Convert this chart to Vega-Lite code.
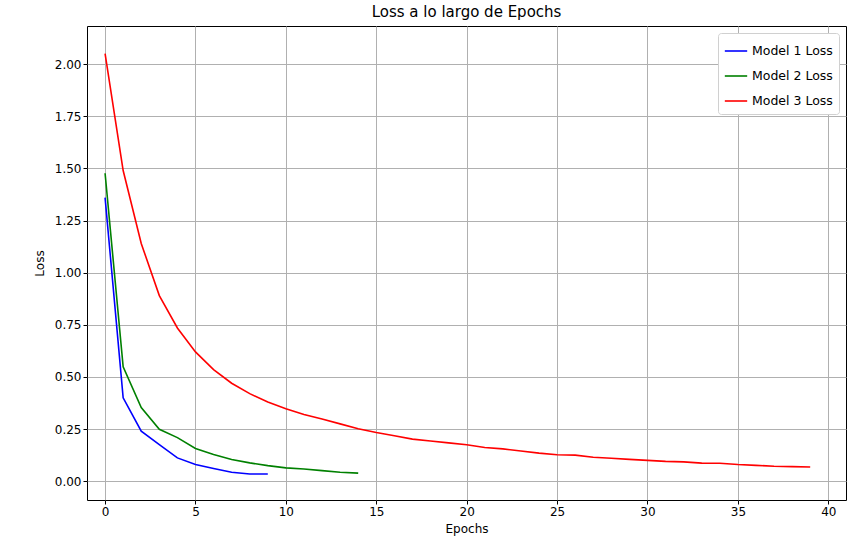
{
  "$schema": "https://vega.github.io/schema/vega-lite/v6.json",
  "autosize": {"type": "none"},
  "padding": {"left": 87, "top": 26, "right": 9, "bottom": 47},
  "width": 759,
  "height": 474,
  "title": {"text": "Loss a lo largo de Epochs", "fontSize": 15, "fontWeight": "normal", "font": "DejaVu Sans", "color": "#000", "offset": 6},
  "config": {
    "font": "DejaVu Sans",
    "view": {"stroke": "#000", "strokeWidth": 1},
    "axis": {"labelFont": "DejaVu Sans", "titleFont": "DejaVu Sans", "labelFontSize": 12, "titleFontSize": 12, "titleFontWeight": "normal", "labelColor": "#000", "titleColor": "#000", "gridColor": "#b0b0b0", "gridOpacity": 1, "gridWidth": 1, "domain": false, "tickColor": "#000", "tickSize": 4}
  },
  "data": {"values": [
    {"m": "Model 1 Loss", "e": 0, "v": 1.36}, {"m": "Model 1 Loss", "e": 1, "v": 0.40}, {"m": "Model 1 Loss", "e": 2, "v": 0.24}, {"m": "Model 1 Loss", "e": 3, "v": 0.176}, {"m": "Model 1 Loss", "e": 4, "v": 0.112}, {"m": "Model 1 Loss", "e": 5, "v": 0.08}, {"m": "Model 1 Loss", "e": 6, "v": 0.061}, {"m": "Model 1 Loss", "e": 7, "v": 0.043}, {"m": "Model 1 Loss", "e": 8, "v": 0.035}, {"m": "Model 1 Loss", "e": 9, "v": 0.035},
    {"m": "Model 2 Loss", "e": 0, "v": 1.477}, {"m": "Model 2 Loss", "e": 1, "v": 0.549}, {"m": "Model 2 Loss", "e": 2, "v": 0.353}, {"m": "Model 2 Loss", "e": 3, "v": 0.249}, {"m": "Model 2 Loss", "e": 4, "v": 0.209}, {"m": "Model 2 Loss", "e": 5, "v": 0.157}, {"m": "Model 2 Loss", "e": 6, "v": 0.128}, {"m": "Model 2 Loss", "e": 7, "v": 0.104}, {"m": "Model 2 Loss", "e": 8, "v": 0.088}, {"m": "Model 2 Loss", "e": 9, "v": 0.075}, {"m": "Model 2 Loss", "e": 10, "v": 0.064}, {"m": "Model 2 Loss", "e": 11, "v": 0.059}, {"m": "Model 2 Loss", "e": 12, "v": 0.051}, {"m": "Model 2 Loss", "e": 13, "v": 0.043}, {"m": "Model 2 Loss", "e": 14, "v": 0.039},
    {"m": "Model 3 Loss", "e": 0, "v": 2.05}, {"m": "Model 3 Loss", "e": 1, "v": 1.49}, {"m": "Model 3 Loss", "e": 2, "v": 1.14}, {"m": "Model 3 Loss", "e": 3, "v": 0.89}, {"m": "Model 3 Loss", "e": 4, "v": 0.735}, {"m": "Model 3 Loss", "e": 5, "v": 0.62}, {"m": "Model 3 Loss", "e": 6, "v": 0.535}, {"m": "Model 3 Loss", "e": 7, "v": 0.47}, {"m": "Model 3 Loss", "e": 8, "v": 0.42}, {"m": "Model 3 Loss", "e": 9, "v": 0.38},
    {"m": "Model 3 Loss", "e": 10, "v": 0.348}, {"m": "Model 3 Loss", "e": 11, "v": 0.32}, {"m": "Model 3 Loss", "e": 12, "v": 0.298}, {"m": "Model 3 Loss", "e": 13, "v": 0.275}, {"m": "Model 3 Loss", "e": 14, "v": 0.252}, {"m": "Model 3 Loss", "e": 15, "v": 0.234}, {"m": "Model 3 Loss", "e": 16, "v": 0.218}, {"m": "Model 3 Loss", "e": 17, "v": 0.202}, {"m": "Model 3 Loss", "e": 18, "v": 0.193}, {"m": "Model 3 Loss", "e": 19, "v": 0.184},
    {"m": "Model 3 Loss", "e": 20, "v": 0.175}, {"m": "Model 3 Loss", "e": 21, "v": 0.162}, {"m": "Model 3 Loss", "e": 22, "v": 0.155}, {"m": "Model 3 Loss", "e": 23, "v": 0.145}, {"m": "Model 3 Loss", "e": 24, "v": 0.135}, {"m": "Model 3 Loss", "e": 25, "v": 0.127}, {"m": "Model 3 Loss", "e": 26, "v": 0.125}, {"m": "Model 3 Loss", "e": 27, "v": 0.115}, {"m": "Model 3 Loss", "e": 28, "v": 0.11}, {"m": "Model 3 Loss", "e": 29, "v": 0.105},
    {"m": "Model 3 Loss", "e": 30, "v": 0.10}, {"m": "Model 3 Loss", "e": 31, "v": 0.095}, {"m": "Model 3 Loss", "e": 32, "v": 0.093}, {"m": "Model 3 Loss", "e": 33, "v": 0.087}, {"m": "Model 3 Loss", "e": 34, "v": 0.086}, {"m": "Model 3 Loss", "e": 35, "v": 0.08}, {"m": "Model 3 Loss", "e": 36, "v": 0.076}, {"m": "Model 3 Loss", "e": 37, "v": 0.072}, {"m": "Model 3 Loss", "e": 38, "v": 0.07}, {"m": "Model 3 Loss", "e": 39, "v": 0.068}
  ]},
  "mark": {"type": "line", "strokeWidth": 1.6, "clip": true},
  "encoding": {
    "x": {"field": "e", "type": "quantitative", "title": "Epochs", "scale": {"domain": [-1.0, 40.98], "nice": false, "zero": false}, "axis": {"values": [0, 5, 10, 15, 20, 25, 30, 35, 40], "labelFlush": false, "titleFontSize": 12, "titlePadding": 6}},
    "y": {"field": "v", "type": "quantitative", "title": "Loss", "scale": {"domain": [-0.09, 2.183], "nice": false, "zero": false}, "axis": {"values": [0, 0.25, 0.5, 0.75, 1, 1.25, 1.5, 1.75, 2], "format": ".2f", "labelFlush": false, "titlePadding": 8}},
    "color": {"field": "m", "type": "nominal", "scale": {"domain": ["Model 1 Loss", "Model 2 Loss", "Model 3 Loss"], "range": ["#0000ff", "#008000", "#ff0000"]},
      "legend": {"title": null, "orient": "top-right", "symbolType": "stroke", "symbolSize": 500, "symbolStrokeWidth": 1.6, "labelFontSize": 12.5, "labelColor": "#000", "strokeColor": "#d0d0d0", "fillColor": "#fff", "padding": 6, "cornerRadius": 3, "offset": 7, "rowPadding": 6}}
  }
}
